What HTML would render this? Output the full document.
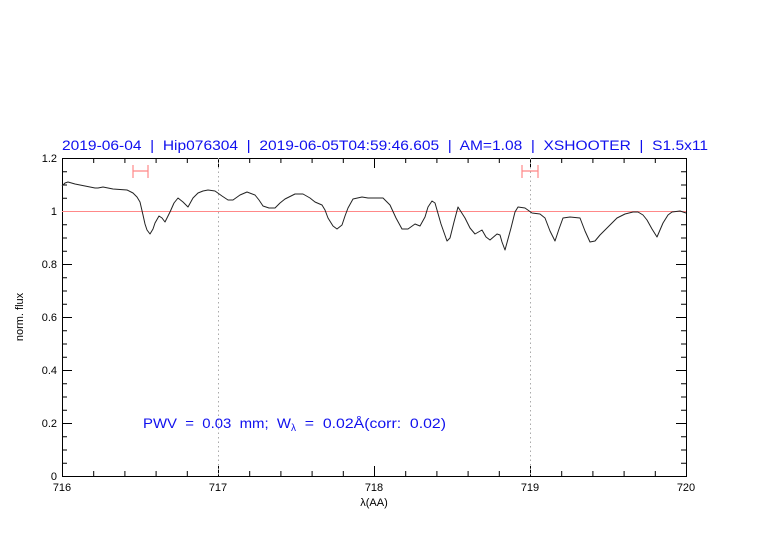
<!DOCTYPE html>
<html><head><style>body{margin:0;background:#fff}svg{display:block}</style></head><body>
<svg width="782" height="542" viewBox="0 0 782 542" xmlns="http://www.w3.org/2000/svg" font-family="Liberation Sans, sans-serif">
<rect width="782" height="542" fill="#fff"/>
<text x="62" y="150" font-size="13.5" fill="#1010ee" textLength="646" lengthAdjust="spacingAndGlyphs" xml:space="preserve">2019-06-04  |  Hip076304  |  2019-06-05T04:59:46.605  |  AM=1.08  |  XSHOOTER  |  S1.5x11</text>
<g stroke="#000" stroke-width="1" fill="none">
<rect x="62.5" y="158.5" width="624" height="318"/>
<path d="
M93.7,476v-5M124.9,476v-5M156.1,476v-5M187.3,476v-5M218.5,476v-10M249.7,476v-5M280.9,476v-5M312.1,476v-5M343.3,476v-5M374.5,476v-10M405.7,476v-5M436.9,476v-5M468.1,476v-5M499.3,476v-5M530.5,476v-10M561.7,476v-5M592.9,476v-5M624.1,476v-5M655.3,476v-5
M93.7,158v5M124.9,158v5M156.1,158v5M187.3,158v5M218.5,158v10M249.7,158v5M280.9,158v5M312.1,158v5M343.3,158v5M374.5,158v10M405.7,158v5M436.9,158v5M468.1,158v5M499.3,158v5M530.5,158v10M561.7,158v5M592.9,158v5M624.1,158v5M655.3,158v5
M62,463.25h5M62,450h5M62,436.75h5M62,423.5h10M62,410.25h5M62,397h5M62,383.75h5M62,370.5h10M62,357.25h5M62,344h5M62,330.75h5M62,317.5h10M62,304.25h5M62,291h5M62,277.75h5M62,264.5h10M62,251.25h5M62,238h5M62,224.75h5M62,211.5h10M62,198.25h5M62,185h5M62,171.75h5
M686,463.25h-5M686,450h-5M686,436.75h-5M686,423.5h-10M686,410.25h-5M686,397h-5M686,383.75h-5M686,370.5h-10M686,357.25h-5M686,344h-5M686,330.75h-5M686,317.5h-10M686,304.25h-5M686,291h-5M686,277.75h-5M686,264.5h-10M686,251.25h-5M686,238h-5M686,224.75h-5M686,211.5h-10M686,198.25h-5M686,185h-5M686,171.75h-5"/>
</g>
<g stroke="#aaa" stroke-dasharray="1.5,3" stroke-width="1"><line x1="218.5" y1="158" x2="218.5" y2="476"/><line x1="530.5" y1="158" x2="530.5" y2="476"/></g>
<line x1="62" y1="211.5" x2="686" y2="211.5" stroke="#f88" stroke-width="1"/>
<g stroke="#f88" stroke-width="1.2"><path d="M133,171H148M133,165v13M148,165v13M522,171H538M522,165v13M538,165v13"/></g>
<polyline fill="none" stroke="#222" stroke-width="1" stroke-linejoin="round" points="62,186 65,183 68,182 75,184 95,188 98,188 103,187 113,189 127,190 133,193 137,197 140,202 143,215 145,224 147,230 150,234 153,229 155,223 159,216 162,218 165,222 167,218 170,212 174,203 178,198 183,202 188,207 193,198 198,193 203,191 208,190 215,191 222,196 228,200 233,200 240,195 247,192 255,195 259,200 263,206 269,208 275,208 280,203 285,199 295,194 303,194 310,198 315,202 322,205 325,210 328,218 333,226 337,229 342,225 345,216 348,208 353,199 362,197 368,198 383,198 390,205 396,218 402,229 408,229 415,224 420,226 425,217 428,207 432,201 435,203 441,224 447,241 450,238 454,222 458,207 465,218 470,228 475,234 482,230 486,237 490,240 497,234 500,235 502,242 505,250 511,228 515,212 518,207 525,208 532,213 540,214 545,218 550,231 555,241 559,229 563,218 570,217 580,218 585,231 590,242 595,241 600,235 608,227 617,218 625,214 633,212 638,212 643,215 647,220 652,229 657,237 660,230 663,223 668,215 672,212 680,211 686,213"/>
<g font-size="11" text-anchor="end" fill="#000">
<text x="57" y="480">0</text><text x="57" y="427">0.2</text><text x="57" y="374">0.4</text><text x="57" y="321">0.6</text><text x="57" y="268">0.8</text><text x="57" y="215">1</text><text x="57" y="162">1.2</text>
</g>
<g font-size="11" text-anchor="middle" fill="#000">
<text x="62" y="491">716</text><text x="218" y="491">717</text><text x="374" y="491">718</text><text x="530" y="491">719</text><text x="686" y="491">720</text>
<text x="374" y="506">λ(AA)</text>
<text transform="translate(23,317) rotate(-90)">norm. flux</text>
</g>
<text x="143" y="428" font-size="13.5" fill="#1010ee" xml:space="preserve"><tspan textLength="148" lengthAdjust="spacingAndGlyphs">PWV  =  0.03  mm;  W</tspan><tspan font-size="10" dy="3">λ</tspan><tspan dy="-3" textLength="150" lengthAdjust="spacingAndGlyphs">  =  0.02Å(corr:  0.02)</tspan></text>
</svg>
</body></html>
